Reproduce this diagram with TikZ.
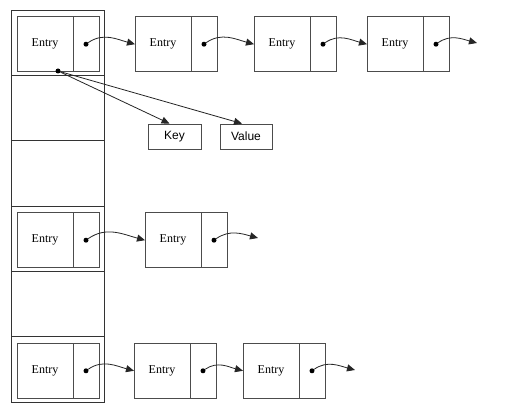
\documentclass[tikz,border=0pt]{standalone}
\usepackage{fontspec}
\setmainfont{Liberation Serif}
\newfontfamily\arialf{Liberation Sans}
\usetikzlibrary{arrows.meta,calc}
\begin{document}
\begin{tikzpicture}[x=1pt,y=1pt,
  cell/.style={draw=black!80,line width=0.9pt,minimum width=92.5pt,minimum height=65.33pt,inner sep=0pt,outer sep=0pt},
  entrybox/.style={draw=black!70,line width=0.8pt,minimum width=56pt,minimum height=55pt,inner sep=0pt,outer sep=0pt,font=\fontsize{12}{14}\selectfont},
  ptrbox/.style={draw=black!70,line width=0.8pt,minimum width=26pt,minimum height=55pt,inner sep=0pt,outer sep=0pt,anchor=west},
  dotn/.style={circle,fill=black,inner sep=0pt,minimum size=5pt},
  ptr/.style={draw=black!85,line width=0.8pt,-{Triangle[length=8pt,width=7pt]}},
  kvbox/.style={draw=black!70,line width=0.8pt,minimum height=25pt,inner sep=0pt,font=\arialf\fontsize{12}{14}\selectfont}]
\fill[white] (0,0) rectangle (513,409);
\useasboundingbox (0,0) rectangle (513,409);
% bucket column
\node[cell] (c1) at (57.75,366.33) {};
\node[cell] (c2) at (57.75,301.00) {};
\node[cell] (c3) at (57.75,235.67) {};
\node[cell] (c4) at (57.75,170.33) {};
\node[cell] (c5) at (57.75,105.00) {};
\node[cell] (c6) at (57.75,39.67) {};
% row 1
\node[entrybox] (e11) at (45,364.8) {Entry};
\node[ptrbox] (p11) at (e11.east) {};
\node[dotn] (d11) at (p11.center) {};
\node[entrybox] (e12) at (163,364.8) {Entry};
\node[ptrbox] (p12) at (e12.east) {};
\node[dotn] (d12) at (p12.center) {};
\node[entrybox] (e13) at (282,364.8) {Entry};
\node[ptrbox] (p13) at (e13.east) {};
\node[dotn] (d13) at (p13.center) {};
\node[entrybox] (e14) at (395,364.8) {Entry};
\node[ptrbox] (p14) at (e14.east) {};
\node[dotn] (d14) at (p14.center) {};
\coordinate (end1) at (477,366);
\draw[ptr] (d11) to[out=35,in=165] (e12.west);
\draw[ptr] (d12) to[out=35,in=165] (e13.west);
\draw[ptr] (d13) to[out=35,in=165] (e14.west);
\draw[ptr] (d14) to[out=35,in=165] (end1);
% key / value
\node[dotn] (dk) at (58,338) {};
\node[kvbox,minimum width=53pt] (key) at (174.5,272.5) {Key};
\node[kvbox,minimum width=52pt] (val) at (246,272.5) {Value};
\draw[ptr] (dk) -- ($(key.north)+(-5,0)$);
\draw[ptr] (dk) -- ($(val.north)+(-4,0)$);
% row 4
\node[entrybox] (e41) at (45,168.8) {Entry};
\node[ptrbox] (p41) at (e41.east) {};
\node[dotn] (d41) at (p41.center) {};
\node[entrybox] (e42) at (173,168.8) {Entry};
\node[ptrbox] (p42) at (e42.east) {};
\node[dotn] (d42) at (p42.center) {};
\coordinate (end4) at (258,171);
\draw[ptr] (d41) to[out=35,in=165] (e42.west);
\draw[ptr] (d42) to[out=35,in=165] (end4);
% row 6
\node[entrybox] (e61) at (45,38.2) {Entry};
\node[ptrbox] (p61) at (e61.east) {};
\node[dotn] (d61) at (p61.center) {};
\node[entrybox] (e62) at (162,38.2) {Entry};
\node[ptrbox] (p62) at (e62.east) {};
\node[dotn] (d62) at (p62.center) {};
\node[entrybox] (e63) at (271,38.2) {Entry};
\node[ptrbox] (p63) at (e63.east) {};
\node[dotn] (d63) at (p63.center) {};
\coordinate (end6) at (355,39);
\draw[ptr] (d61) to[out=35,in=165] (e62.west);
\draw[ptr] (d62) to[out=35,in=165] (e63.west);
\draw[ptr] (d63) to[out=35,in=165] (end6);
\end{tikzpicture}
\end{document}
